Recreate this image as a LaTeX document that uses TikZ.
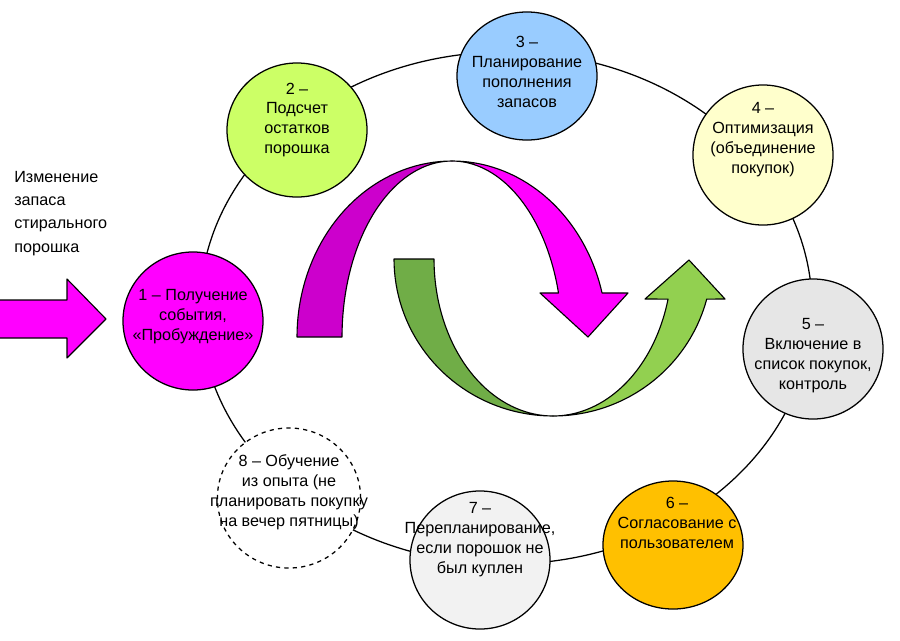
\documentclass[tikz,border=0pt]{standalone}
\usepackage{fontspec}
\setmainfont{Liberation Sans}
\usepackage{tikz}
\usetikzlibrary{shapes.geometric,positioning}

\definecolor{pinkbright}{HTML}{FF00FF}
\definecolor{pinkdark}{HTML}{CC00CC}
\definecolor{greendark}{HTML}{70AD47}
\definecolor{greenlight}{HTML}{92D050}
\definecolor{limefill}{HTML}{CCFF66}
\definecolor{skyfill}{HTML}{99CCFF}
\definecolor{creamfill}{HTML}{FFFFCC}
\definecolor{greyfill}{HTML}{E6E6E6}
\definecolor{amberfill}{HTML}{FFC000}
\definecolor{palefill}{HTML}{F2F2F2}

\begin{document}
\begin{tikzpicture}[
  x=0.025cm, y=-0.025cm,
  stage/.style={ellipse, draw, line width=0.9pt, minimum width=3.5cm, minimum height=3.5cm, inner sep=0pt},
  stagetext/.style={align=center, inner sep=0pt, font=\fontsize{11.5}{14.2}\selectfont},
  ribbon/.style={draw, line width=0.8pt, line join=round},
]
  \useasboundingbox[fill=white] (0,0) rectangle (900,640);

  % cycle ring
  \draw[line width=0.9pt, fill=white] (506,308) ellipse [x radius=7.65cm, y radius=6.4cm];

  % twisted arrows in the middle
  \filldraw[ribbon, fill=pinkdark] plot[domain=180:90, samples=40, variable=\t] ({452+155*cos(\t)},{337-176*sin(\t)})
    -- plot[domain=90:180, samples=40, variable=\t] ({452+110*cos(\t)},{337-176*sin(\t)}) -- cycle;
  \filldraw[ribbon, fill=pinkbright] plot[domain=90:14.5, samples=40, variable=\t] ({452+155*cos(\t)},{337-176*sin(\t)})
    -- (628,293) -- (588,337) -- (540,293)
    -- plot[domain=14.5:90, samples=40, variable=\t] ({452+110*cos(\t)},{337-176*sin(\t)}) -- cycle;
  \filldraw[ribbon, fill=greendark] plot[domain=180:90, samples=40, variable=\t] ({553+159*cos(\t)},{259+157*sin(\t)})
    -- plot[domain=90:180, samples=40, variable=\t] ({553+119*cos(\t)},{259+157*sin(\t)}) -- cycle;
  \filldraw[ribbon, fill=greenlight] plot[domain=90:14.8, samples=40, variable=\t] ({553+159*cos(\t)},{259+157*sin(\t)})
    -- (725,299) -- (689,260) -- (645,299)
    -- plot[domain=14.8:90, samples=40, variable=\t] ({553+119*cos(\t)},{259+157*sin(\t)}) -- cycle;

  % incoming event
  \filldraw[ribbon, fill=pinkbright] (-2,300) -- (67,300) -- (67,279) -- (106,319) -- (67,358) -- (67,338) -- (-2,338) -- cycle;
  \node[anchor=north west, align=left, inner sep=0pt, font=\fontsize{11.5}{16.5}\selectfont] (change) at (14,171)
    {Изменение\\запаса\\стирального\\порошка};

  % stages
  \node[stage, fill=pinkbright, minimum height=3.45cm] (s1) at (193,321) {};
  \node[stage, fill=limefill, minimum height=3.35cm] (s2) at (297,130) {};
  \node[stage, fill=skyfill, minimum height=3.2cm] (s3) at (527,76) {};
  \node[stage, fill=creamfill] (s4) at (763,155) {};
  \node[stage, fill=greyfill] (s5) at (813,349) {};
  \node[stage, fill=amberfill, minimum height=3.2cm] (s6) at (673,545) {};
  \node[stage, fill=palefill, minimum height=3.45cm] (s7) at (480,560) {};
  \node[stage, fill=white, dashed, minimum width=3.58cm] (s8) at (289,498) {};

  \node[stagetext] (t1) at (193,317) {1 – Получение\\события,\\«Пробуждение»};
  \node[stagetext] (t2) at (297,120) {2 –\\Подсчет\\остатков\\порошка};
  \node[stagetext] (t3) at (527,72) {3 –\\Планирование\\пополнения\\запасов};
  \node[stagetext] (t4) at (763,140) {4 –\\Оптимизация\\(объединение\\покупок)};
  \node[stagetext] (t5) at (813,356) {5 –\\Включение в\\список покупок,\\контроль};
  \node[stagetext] (t6) at (677,523) {6 –\\Согласование с\\пользователем};
  \node[stagetext] (t7) at (480,540) {7 –\\Перепланирование,\\если порошок не\\был куплен};
  \node[stagetext] (t8) at (289,492) {8 – Обучение\\из опыта (не\\планировать покупку\\на вечер пятницы)};
\end{tikzpicture}
\end{document}
